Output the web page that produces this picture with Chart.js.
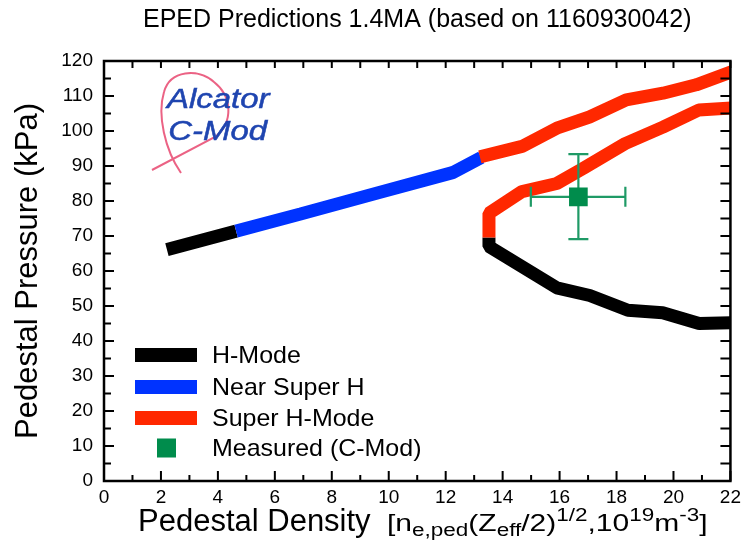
<!DOCTYPE html>
<html><head><meta charset="utf-8">
<script src="https://cdn.jsdelivr.net/npm/chart.js@4.4.1/dist/chart.umd.min.js"></script>
<style>html,body{margin:0;padding:0;background:#fff}#wrap{width:746px;height:547px;position:relative}</style>
</head><body><div id="wrap"><canvas id="c" width="746" height="547"></canvas></div>
<script>
// ---------- data ----------
const titleText = 'EPED Predictions 1.4MA (based on 1160930042)';
const yTitleText = 'Pedestal Pressure (kPa)';
const xTickValues = [0, 2, 4, 6, 8, 10, 12, 14, 16, 18, 20, 22];
const yTickValues = [0, 10, 20, 30, 40, 50, 60, 70, 80, 90, 100, 110, 120];

const hModeLowX  = [2.21, 4.64];
const hModeLowY  = [66.1, 71.4];
const hModeHighX = [13.52, 13.52, 15.9, 17.06, 18.4, 19.62, 20.9, 22.1];
const hModeHighY = [69.6, 67.0, 55.2, 53.0, 48.8, 48.1, 45.0, 45.2];

const nearSuperX = [4.64, 6.9, 9.6, 12.24, 13.25];
const nearSuperY = [71.4, 76.3, 82.3, 88.1, 92.4];

const superUpperX = [13.2, 14.68, 15.9, 17.05, 18.34, 19.63, 20.8, 22.1];
const superUpperY = [92.6, 95.6, 100.8, 104.0, 108.9, 110.8, 113.2, 117.1];
const superLowerX = [13.52, 13.52, 14.68, 15.9, 16.83, 18.3, 19.63, 20.89, 22.1];
const superLowerY = [69.6, 76.5, 82.7, 85.0, 89.3, 96.4, 101.1, 106.0, 106.6];

const measX = [16.66];
const measY = [81.2];
const measXLo = [14.99];
const measXHi = [18.31];
const measYLo = [69.1];
const measYHi = [93.4];

const legendLabels = ['H-Mode', 'Near Super H', 'Super H-Mode', 'Measured (C-Mod)'];

// ---------- styles ----------
const C_BLACK = '#000000', C_BLUE = '#0033ff', C_RED = '#ff2800', C_GREEN = '#008c4c', C_ERR = '#1f9a66';
const FONT = "'Liberation Sans', Arial, Helvetica, sans-serif";

function pts(xs, ys) { return xs.map((x, i) => ({ x: x, y: ys[i] })); }
function withGap(a, b) { return a.concat([{ x: (a[a.length-1].x + b[0].x) / 2, y: null }], b); }

const lineCommon = { borderWidth: 13, pointRadius: 0, pointHoverRadius: 0, fill: false, tension: 0,
  borderCapStyle: 'butt', borderJoinStyle: 'bevel', spanGaps: false, clip: 0 };

const datasets = [
  { label: legendLabels[3], data: pts(measX, measY), showLine: false, pointStyle: 'rect',
    pointRadius: 13.2, pointHoverRadius: 13.2, backgroundColor: C_GREEN, borderColor: C_GREEN, borderWidth: 0,
    errXLo: measXLo, errXHi: measXHi, errYLo: measYLo, errYHi: measYHi },
  Object.assign({ label: legendLabels[2], data: withGap(pts(superUpperX, superUpperY), pts(superLowerX, superLowerY)), borderColor: C_RED }, lineCommon),
  Object.assign({ label: legendLabels[1], data: pts(nearSuperX, nearSuperY), borderColor: C_BLUE }, lineCommon),
  Object.assign({ label: legendLabels[0], data: withGap(pts(hModeLowX, hModeLowY), pts(hModeHighX, hModeHighY)), borderColor: C_BLACK }, lineCommon)
];

// ---------- plugin: frame, inward ticks, error bars, legend, logo, x title ----------
const decor = {
  id: 'decor',
  beforeDatasetDraw(chart, args) {
    const ds = chart.data.datasets[args.index];
    if (!ds.errXLo) return;
    const xs = chart.scales.x, ys = chart.scales.y, ctx = chart.ctx;
    ctx.save();
    ctx.strokeStyle = C_ERR; ctx.lineWidth = 2.2;
    ds.data.forEach((p, i) => {
      const px = xs.getPixelForValue(p.x), py = ys.getPixelForValue(p.y);
      const x1 = xs.getPixelForValue(ds.errXLo[i]), x2 = xs.getPixelForValue(ds.errXHi[i]);
      const y1 = ys.getPixelForValue(ds.errYLo[i]), y2 = ys.getPixelForValue(ds.errYHi[i]);
      const cap = 10;
      ctx.beginPath();
      ctx.moveTo(x1, py); ctx.lineTo(x2, py);
      ctx.moveTo(px, y1); ctx.lineTo(px, y2);
      ctx.moveTo(x1, py - cap); ctx.lineTo(x1, py + cap);
      ctx.moveTo(x2, py - cap); ctx.lineTo(x2, py + cap);
      ctx.moveTo(px - cap, y1); ctx.lineTo(px + cap, y1);
      ctx.moveTo(px - cap, y2); ctx.lineTo(px + cap, y2);
      ctx.stroke();
    });
    ctx.restore();
  },
  afterDraw(chart) {
    const ctx = chart.ctx, a = chart.chartArea, xs = chart.scales.x, ys = chart.scales.y;
    ctx.save();
    // ticks
    ctx.strokeStyle = '#000'; ctx.lineWidth = 2;
    ctx.beginPath();
    for (let v = xs.min; v <= xs.max; v += 1) {
      const px = xs.getPixelForValue(v);
      const len = (v % 2 === 0) ? 10 : 6;
      ctx.moveTo(px, a.bottom); ctx.lineTo(px, a.bottom - len);
      ctx.moveTo(px, a.top); ctx.lineTo(px, a.top + 7);
    }
    for (let v = ys.min; v <= ys.max; v += 5) {
      const py = ys.getPixelForValue(v);
      const len = (v % 10 === 0) ? 10 : 7;
      ctx.moveTo(a.left, py); ctx.lineTo(a.left + len, py);
      ctx.moveTo(a.right, py); ctx.lineTo(a.right - 10, py);
    }
    ctx.stroke();
    // frame
    ctx.lineWidth = 2.5;
    ctx.strokeRect(a.left, a.top, a.right - a.left, a.bottom - a.top);

    // legend
    const rows = [355, 387, 418, 448];
    const cols = [C_BLACK, C_BLUE, C_RED];
    legendLabels.forEach((lab, i) => {
      const y = rows[i];
      if (i < 3) { ctx.fillStyle = cols[i]; ctx.fillRect(135, y - 7, 62, 14); }
      else { ctx.fillStyle = C_GREEN; ctx.fillRect(157, y - 9.5, 19, 19); }
      ctx.save();
      ctx.font = '24px ' + FONT; ctx.textBaseline = 'middle'; ctx.textAlign = 'left'; ctx.fillStyle = '#000';
      ctx.translate(212, y + 1); ctx.scale(1.04, 1);
      ctx.fillText(lab, 0, 0);
      ctx.restore();
    });

    // logo
    ctx.strokeStyle = 'rgba(232,70,110,0.85)'; ctx.lineWidth = 2;
    ctx.beginPath();
    ctx.moveTo(152, 170);
    ctx.quadraticCurveTo(190, 150, 215, 137);
    ctx.bezierCurveTo(234, 122, 232, 96, 214, 82);
    ctx.bezierCurveTo(198, 68, 170, 70, 164, 92);
    ctx.bezierCurveTo(157, 115, 165, 150, 181, 173);
    ctx.stroke();
    ctx.save();
    ctx.fillStyle = '#1f45b0'; ctx.strokeStyle = '#1f45b0'; ctx.lineWidth = 0.5;
    ctx.font = 'italic 27px ' + FONT;
    ctx.textBaseline = 'alphabetic';
    ctx.translate(167, 108); ctx.scale(1.22, 1);
    ctx.fillText('Alcator', 0, 0); ctx.strokeText('Alcator', 0, 0);
    ctx.fillText('C-Mod', 1, 32); ctx.strokeText('C-Mod', 1, 32);
    ctx.restore();

    // x axis title with sub/superscripts
    const main = 'Pedestal Density';
    const base = 531;
    ctx.fillStyle = '#000'; ctx.textBaseline = 'alphabetic'; ctx.textAlign = 'left';
    ctx.font = '31px ' + FONT;
    ctx.fillText(main, 138, base);
    const runs = [
      { t: '[n', s: 24, dy: 0 }, { t: 'e,ped', s: 18, dy: 5 }, { t: '(Z', s: 24, dy: 0 },
      { t: 'eff', s: 18, dy: 5 }, { t: '/2)', s: 24, dy: 0 }, { t: '1/2', s: 18, dy: -10 },
      { t: ',10', s: 24, dy: 0 }, { t: '19', s: 18, dy: -10 }, { t: 'm', s: 24, dy: 0 },
      { t: '-3', s: 18, dy: -10 }, { t: ']', s: 24, dy: 0 }
    ];
    ctx.save();
    ctx.translate(387, base); ctx.scale(1.25, 1);
    let x = 0;
    runs.forEach(r => {
      ctx.font = r.s + 'px ' + FONT;
      ctx.fillText(r.t, x, r.dy);
      x += ctx.measureText(r.t).width;
    });
    ctx.restore();
    ctx.restore();
  }
};

new Chart(document.getElementById('c'), {
  type: 'line',
  data: { datasets: datasets },
  plugins: [decor],
  options: {
    responsive: false, animation: false, events: [],
    layout: { padding: { left: 0, right: 11, top: 0, bottom: 0 } },
    plugins: {
      legend: { display: false }, tooltip: { enabled: false },
      title: { display: true, text: titleText, fullSize: false, color: '#000',
        font: { family: FONT, size: 25, weight: 'normal' }, padding: { top: 5, bottom: 26 } }
    },
    scales: {
      x: { type: 'linear', min: 0, max: 22,
        afterFit(s) { s.height = 66; },
        afterBuildTicks(s) { s.ticks = xTickValues.map(v => ({ value: v })); },
        grid: { display: false, drawTicks: false }, border: { display: false },
        ticks: { color: '#000', padding: 5, font: { family: FONT, size: 19 }, maxRotation: 0, autoSkip: false } },
      y: { type: 'linear', min: 0, max: 120,
        afterFit(s) { s.width = 104; },
        afterBuildTicks(s) { s.ticks = yTickValues.map(v => ({ value: v })); },
        grid: { display: false, drawTicks: false }, border: { display: false },
        ticks: { color: '#000', padding: 11, font: { family: FONT, size: 19 }, autoSkip: false },
        title: { display: true, text: yTitleText, color: '#000', font: { family: FONT, size: 31 }, padding: { top: 10, bottom: 0 } } }
    }
  }
});
</script></body></html>
